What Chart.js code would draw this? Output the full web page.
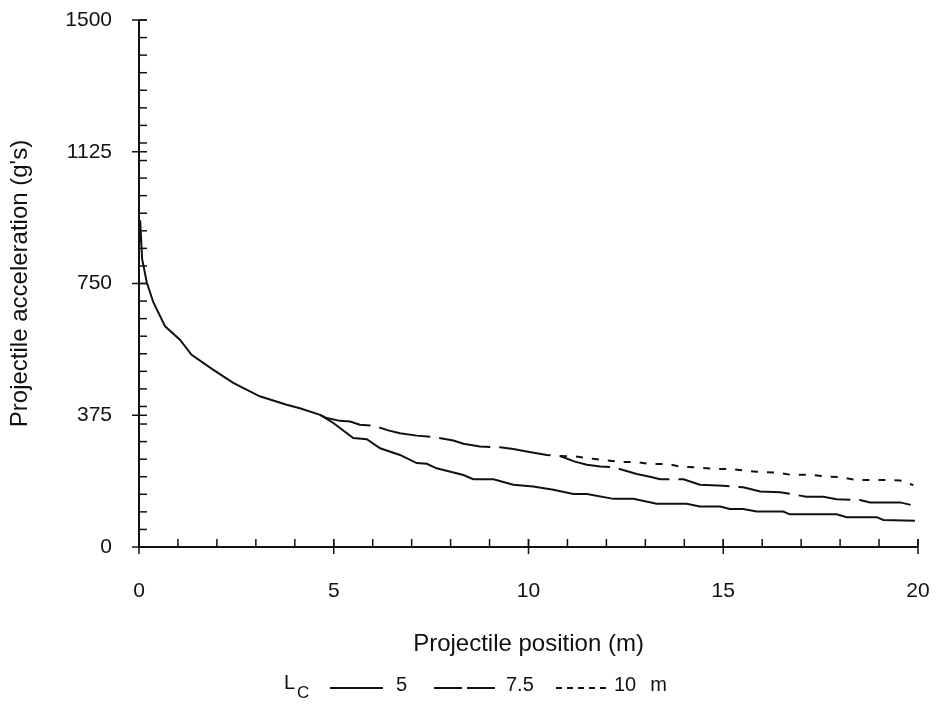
<!DOCTYPE html>
<html><head><meta charset="utf-8">
<script src="https://cdn.jsdelivr.net/npm/chart.js@4.4.1/dist/chart.umd.min.js"></script>
<style>html,body{margin:0;padding:0;background:#fff;}#wrap{width:940px;height:707px;position:relative;}</style>
</head><body><div id="wrap"><canvas id="c" width="940" height="707"></canvas></div>
<script>
// ---- data ----
const xTickLabels = [0, 5, 10, 15, 20];
const yTickLabels = [0, 375, 750, 1125, 1500];
const xMinorStep = 1;
const yMinorStep = 50;
const xTitle = 'Projectile position (m)';
const yTitle = "Projectile acceleration (g's)";
const legendSymbol = 'L';
const legendSub = 'C';
const legendUnit = 'm';
const seriesLabels = ['5', '7.5', '10'];

const lc5X = [0, 0.03, 0.08, 0.2, 0.37, 0.67, 1.05, 1.35, 1.9, 2.42, 3.1, 3.79, 4.13, 4.65, 4.99, 5.5, 5.85, 6.19, 6.7, 7.13, 7.39, 7.64, 8.33, 8.58, 9.1, 9.61, 10.12, 10.64, 11.15, 11.5, 12.18, 12.69, 13.29, 14.06, 14.4, 14.92, 15.17, 15.51, 15.86, 16.54, 16.71, 17.91, 18.17, 18.94, 19.11, 19.92];
const lc5Y = [860, 930, 820, 753, 696, 628, 590, 547, 505, 467, 429, 405, 395, 376, 353, 310, 307, 281, 262, 239, 237, 224, 205, 193, 193, 177, 172, 163, 151, 151, 137, 137, 123, 123, 115, 115, 108, 108, 101, 101, 93, 93, 85, 85, 77, 75];

const lc75X = [4.65, 4.82, 5.16, 5.42, 5.67, 6.02, 6.4, 6.7, 7.13, 7.56, 8.07, 8.33, 8.75, 9.27, 9.61, 9.95, 10.47, 10.81, 11.19, 11.5, 11.84, 12.18, 12.78, 13.12, 13.38, 13.98, 14.4, 15.0, 15.51, 15.95, 16.46, 17.14, 17.57, 17.91, 18.51, 18.77, 19.54, 19.92];
const lc75Y = [376, 367, 359, 357, 348, 345, 332, 324, 317, 313, 303, 294, 286, 284, 279, 272, 262, 259, 243, 234, 229, 227, 208, 200, 193, 193, 177, 174, 170, 158, 156, 143, 143, 136, 134, 127, 127, 117];

const lc10X = [10.81, 11.19, 11.66, 11.92, 12.35, 12.78, 13.12, 13.6, 13.89, 14.4, 14.83, 15.2, 15.86, 16.37, 16.71, 17.23, 17.66, 17.99, 18.42, 19.11, 19.54, 19.88];
const lc10Y = [259, 258, 251, 248, 242, 242, 236, 236, 229, 226, 222, 222, 214, 212, 206, 206, 200, 199, 191, 191, 189, 176];

// ---- chart ----
const pts = (xs, ys) => xs.map((x, i) => ({x, y: ys[i]}));
const FONT = '"Liberation Sans", Arial, Helvetica, sans-serif';
const INK = '#111';
const dashes = [[], [52, 9], [7, 9]];
const legendDashes = [[], [28, 5], [6, 5]];

const axesPlugin = {
  id: 'axesPlugin',
  afterDatasetsDraw(chart) {
    const {ctx, scales: {x, y}} = chart;
    const seg = (x1, y1, x2, y2) => { ctx.beginPath(); ctx.moveTo(x1, y1); ctx.lineTo(x2, y2); ctx.stroke(); };
    ctx.save();
    ctx.strokeStyle = INK;
    ctx.lineWidth = 2;
    const y0 = y.getPixelForValue(yTickLabels[0]);
    const yTop = y.getPixelForValue(yTickLabels[yTickLabels.length - 1]);
    const x0 = x.getPixelForValue(xTickLabels[0]);
    const xEnd = x.getPixelForValue(xTickLabels[xTickLabels.length - 1]);
    seg(x0, yTop, x0, y0 + 1);
    seg(x0 - 1, y0, xEnd, y0);
    ctx.lineWidth = 1.5;
    for (let v = 0; v <= yTickLabels[yTickLabels.length - 1]; v += yMinorStep) {
      const py = y.getPixelForValue(v);
      seg(x0, py, x0 + 8, py);
    }
    for (const v of yTickLabels) {
      const py = y.getPixelForValue(v);
      seg(x0 - 7, py, x0 + 8, py);
    }
    for (let v = 0; v <= xTickLabels[xTickLabels.length - 1]; v += xMinorStep) {
      const px = x.getPixelForValue(v);
      seg(px, y0, px, y0 - 8);
    }
    for (const v of xTickLabels) {
      const px = x.getPixelForValue(v);
      seg(px, y0 + 7, px, y0 - 8);
    }
    ctx.restore();
  },
  afterDraw(chart) {
    const {ctx} = chart;
    ctx.save();
    ctx.fillStyle = INK;
    ctx.strokeStyle = INK;
    ctx.textBaseline = 'alphabetic';
    ctx.textAlign = 'left';
    const base = 691;
    ctx.font = '20px ' + FONT;
    ctx.fillText(legendSymbol, 284, base - 2);
    ctx.font = '17px ' + FONT;
    ctx.fillText(legendSub, 297, base + 7);
    const items = [
      {x1: 330, x2: 383, tx: 396},
      {x1: 434, x2: 499, tx: 506},
      {x1: 556, x2: 606, tx: 614}
    ];
    ctx.font = '20px ' + FONT;
    let lastEnd = 0;
    items.forEach((it, i) => {
      ctx.lineWidth = 1.8;
      ctx.setLineDash(legendDashes[i]);
      ctx.beginPath(); ctx.moveTo(it.x1, base - 3); ctx.lineTo(it.x2, base - 3); ctx.stroke();
      ctx.setLineDash([]);
      ctx.fillText(seriesLabels[i], it.tx, base);
      lastEnd = it.tx + ctx.measureText(seriesLabels[i]).width;
    });
    ctx.fillText(legendUnit, lastEnd + 14, base);
    ctx.restore();
  }
};

new Chart(document.getElementById('c'), {
  type: 'line',
  data: {
    datasets: [
      {label: seriesLabels[0], data: pts(lc5X, lc5Y)},
      {label: seriesLabels[1], data: pts(lc75X, lc75Y)},
      {label: seriesLabels[2], data: pts(lc10X, lc10Y)}
    ].map((d, i) => Object.assign(d, {
      borderColor: INK, borderWidth: 2, borderDash: dashes[i], pointRadius: 0,
      tension: 0, fill: false, borderCapStyle: 'butt'
    }))
  },
  options: {
    responsive: false,
    animation: false,
    layout: {padding: {left: 0, top: 20, right: 22, bottom: 0}},
    plugins: {legend: {display: false}, tooltip: {enabled: false}},
    scales: {
      x: {
        type: 'linear', min: 0, max: 20,
        afterBuildTicks: s => { s.ticks = xTickLabels.map(v => ({value: v})); },
        afterFit: s => { s.height = 160; s.paddingLeft = 0; s.paddingRight = 0; },
        grid: {display: false, drawTicks: false},
        border: {display: false},
        ticks: {padding: 32, color: INK, font: {family: FONT, size: 21}, maxRotation: 0, autoSkip: false,
                callback: v => String(v)},
        title: {display: true, text: xTitle, color: INK, font: {family: FONT, size: 24}, padding: {top: 0, bottom: 48}}
      },
      y: {
        type: 'linear', min: 0, max: 1500,
        afterBuildTicks: s => { s.ticks = yTickLabels.map(v => ({value: v})); },
        afterFit: s => { s.width = 139; s.paddingTop = 0; s.paddingBottom = 0; },
        grid: {display: false, drawTicks: false},
        border: {display: false},
        ticks: {padding: 27, color: INK, font: {family: FONT, size: 21}, autoSkip: false,
                callback: v => String(v)},
        title: {display: true, text: yTitle, color: INK, font: {family: FONT, size: 24}, padding: {top: 6, bottom: 0}}
      }
    }
  },
  plugins: [axesPlugin]
});
</script>
</body></html>
